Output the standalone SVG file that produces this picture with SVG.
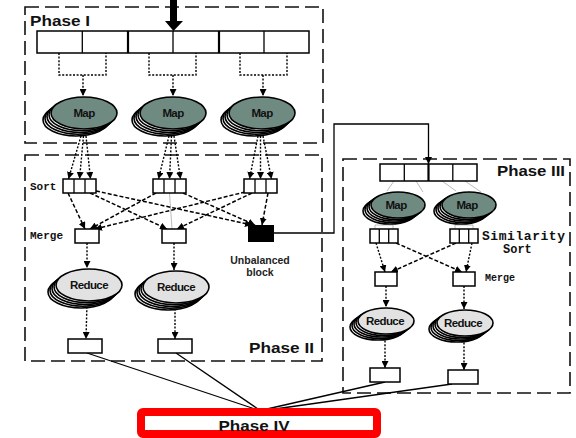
<svg xmlns="http://www.w3.org/2000/svg" xmlns:xlink="http://www.w3.org/1999/xlink" width="576" height="438" viewBox="0 0 576 438">
  <style>
    .phase { fill: none; stroke: #111; stroke-width: 1.6; stroke-dasharray: 14 6; }
    .box { fill: #fff; stroke: #000; stroke-width: 1.5; }
    .solid { fill: none; stroke: #000; stroke-width: 1.3; }
    .dot { fill: none; stroke: #000; stroke-width: 1.4; stroke-dasharray: 2 1.6; }
    .dash { fill: none; stroke: #000; stroke-width: 1.5; stroke-dasharray: 4 2; }
    .faint { fill: none; stroke: #aaa; stroke-width: 0.8; }
    .back { fill: #fff; stroke: #000; stroke-width: 1.6; }
    .map { fill: #6f8a81; stroke: #000; stroke-width: 1.6; }
    .red { fill: #e2e2e2; stroke: #000; stroke-width: 1.6; }
    .title { font-family: "Liberation Sans", Arial, sans-serif; font-weight: bold; font-size: 15px; fill: #111; }
    .mono { font-family: "Liberation Mono", "Courier New", monospace; font-weight: bold; fill: #111; }
    .in { font-family: "Liberation Sans", Arial, sans-serif; font-weight: 900; font-size: 11.5px; fill: #111; text-anchor: middle; letter-spacing: -0.6px; }
    .note { font-family: "Liberation Sans", Arial, sans-serif; font-weight: bold; font-size: 10.5px; fill: #222; text-anchor: middle; }
  </style>
  <defs>
    <marker id="ah" viewBox="0 0 10 10" refX="10" refY="5" markerWidth="7" markerHeight="7" markerUnits="userSpaceOnUse" orient="auto">
      <path d="M0,0 L10,5 L0,10 z" fill="#000"/>
    </marker>
    <!-- stacked ellipses: several copies behind the front one -->
    <g id="mapL">
      <ellipse class="back" cx="-8" cy="7" rx="33" ry="16"/>
      <ellipse class="back" cx="-6" cy="5.2" rx="33" ry="16"/>
      <ellipse class="back" cx="-4" cy="3.5" rx="33" ry="16"/>
      <ellipse class="back" cx="-2" cy="1.7" rx="33" ry="16"/>
      <ellipse class="map" cx="0" cy="0" rx="33" ry="16"/>
    </g>
    <g id="redL">
      <ellipse class="back" cx="-8" cy="7" rx="33" ry="16"/>
      <ellipse class="back" cx="-6" cy="5.2" rx="33" ry="16"/>
      <ellipse class="back" cx="-4" cy="3.5" rx="33" ry="16"/>
      <ellipse class="back" cx="-2" cy="1.7" rx="33" ry="16"/>
      <ellipse class="red" cx="0" cy="0" rx="33" ry="16"/>
    </g>
    <g id="mapS">
      <ellipse class="back" cx="-8" cy="6" rx="27" ry="13"/>
      <ellipse class="back" cx="-6" cy="4.5" rx="27" ry="13"/>
      <ellipse class="back" cx="-4" cy="3" rx="27" ry="13"/>
      <ellipse class="back" cx="-2" cy="1.5" rx="27" ry="13"/>
      <ellipse class="map" cx="0" cy="0" rx="27" ry="13"/>
    </g>
    <g id="redS">
      <ellipse class="back" cx="-8" cy="6" rx="28" ry="13"/>
      <ellipse class="back" cx="-6" cy="4.5" rx="28" ry="13"/>
      <ellipse class="back" cx="-4" cy="3" rx="28" ry="13"/>
      <ellipse class="back" cx="-2" cy="1.5" rx="28" ry="13"/>
      <ellipse class="red" cx="0" cy="0" rx="28" ry="13"/>
    </g>
  </defs>

  <rect width="576" height="438" fill="#fff"/>

  <!-- phase frames -->
  <g id="frames">
    <rect class="phase" x="25" y="7" width="298" height="136"/>
    <rect class="phase" x="25" y="155" width="297" height="206"/>
    <rect class="phase" x="343" y="159" width="227" height="234"/>
  </g>

  <!-- phase titles and side labels -->
  <g id="labels">
    <text class="title" x="30" y="26" textLength="60" lengthAdjust="spacingAndGlyphs">Phase I</text>
    <text class="title" x="249" y="353" textLength="65" lengthAdjust="spacingAndGlyphs">Phase II</text>
    <text class="title" x="497" y="176" textLength="68" lengthAdjust="spacingAndGlyphs">Phase III</text>
    <text class="mono" x="30" y="190" font-size="11">Sort</text>
    <text class="mono" x="30" y="239" font-size="11">Merge</text>
    <text class="mono" x="482" y="240" font-size="13" textLength="83">Similarity</text>
    <text class="mono" x="503" y="253" font-size="12">Sort</text>
    <text class="mono" x="485" y="281" font-size="10">Merge</text>
  </g>

  <!-- connectors -->
  <g id="connectors">
    <!-- input arrow -->
    <polygon points="170,0 177,0 177,21 183,21 173.5,31 165,21 170,21" fill="#000"/>

    <!-- Phase I: split brackets to maps -->
    <path class="dot" d="M59,53 V75 H106 V53"/>
    <path class="dot" d="M149,53 V75 H196 V53"/>
    <path class="dot" d="M240,53 V75 H287 V53"/>
    <line class="dot" x1="83" y1="75" x2="83" y2="96" marker-end="url(#ah)"/>
    <line class="dot" x1="173" y1="75" x2="173" y2="96" marker-end="url(#ah)"/>
    <line class="dot" x1="263" y1="75" x2="263" y2="96" marker-end="url(#ah)"/>

    <!-- maps to sort buffers -->
    <line class="dot" x1="81" y1="136" x2="68.5" y2="179" marker-end="url(#ah)"/>
    <line class="dot" x1="83.5" y1="136" x2="79.5" y2="179" marker-end="url(#ah)"/>
    <line class="dot" x1="86" y1="136" x2="90.5" y2="179" marker-end="url(#ah)"/>
    <line class="dot" x1="169" y1="136" x2="158.5" y2="179" marker-end="url(#ah)"/>
    <line class="dot" x1="171.5" y1="136" x2="169.5" y2="179" marker-end="url(#ah)"/>
    <line class="dot" x1="174" y1="136" x2="180.5" y2="179" marker-end="url(#ah)"/>
    <line class="dot" x1="258" y1="136" x2="249.5" y2="179" marker-end="url(#ah)"/>
    <line class="dot" x1="260.5" y1="136" x2="260.5" y2="179" marker-end="url(#ah)"/>
    <line class="dot" x1="263" y1="136" x2="271.5" y2="179" marker-end="url(#ah)"/>

    <!-- shuffle: sort buffers to merge / unbalanced block -->
    <line class="faint" x1="169.5" y1="193" x2="172" y2="229"/>
    <line class="dash" x1="68" y1="193" x2="85" y2="229" marker-end="url(#ah)"/>
    <line class="dash" x1="90" y1="193" x2="167" y2="229" marker-end="url(#ah)"/>
    <line class="dash" x1="96" y1="191" x2="252" y2="225" marker-end="url(#ah)"/>
    <line class="dash" x1="156" y1="193" x2="90" y2="229" marker-end="url(#ah)"/>
    <line class="dash" x1="183" y1="193" x2="255" y2="225" marker-end="url(#ah)"/>
    <line class="dash" x1="245" y1="192" x2="95" y2="229" marker-end="url(#ah)"/>
    <line class="dash" x1="252" y1="193" x2="177" y2="229" marker-end="url(#ah)"/>
    <line class="dash" x1="268" y1="193" x2="262" y2="225" marker-end="url(#ah)"/>

    <!-- Phase II: merge to reduce to output -->
    <line class="dot" x1="87" y1="243" x2="87" y2="268" marker-end="url(#ah)"/>
    <line class="dot" x1="174" y1="243" x2="174" y2="270" marker-end="url(#ah)"/>
    <line class="dot" x1="87" y1="303" x2="86" y2="339" marker-end="url(#ah)"/>
    <line class="dot" x1="175" y1="305" x2="175" y2="339" marker-end="url(#ah)"/>

    <!-- unbalanced block rerouted to Phase III -->
    <polyline class="solid" points="274,233 334,233 334,124 428.5,124 428.5,164" marker-end="url(#ah)"/>

    <!-- Phase III: split to maps -->
    <line class="faint" x1="394" y1="181" x2="387" y2="191"/>
    <line class="faint" x1="416" y1="181" x2="423" y2="192"/>
    <line class="faint" x1="442" y1="181" x2="456" y2="191"/>
    <line class="faint" x1="465" y1="181" x2="481" y2="192"/>
    <path class="faint" d="M375,229 V225 H393 V229 M384,225 V221"/>
    <path class="faint" d="M455,229 V225 H473 V229 M464,225 V221"/>

    <!-- similarity sort to merge -->
    <line class="dot" x1="376" y1="243" x2="385" y2="272" marker-end="url(#ah)"/>
    <line class="dash" x1="396" y1="243" x2="462" y2="272" marker-end="url(#ah)"/>
    <line class="dash" x1="456" y1="243" x2="391" y2="272" marker-end="url(#ah)"/>
    <line class="dot" x1="472" y1="243" x2="466" y2="272" marker-end="url(#ah)"/>

    <!-- Phase III: merge to reduce to output -->
    <line class="dot" x1="386" y1="286" x2="386" y2="307" marker-end="url(#ah)"/>
    <line class="dot" x1="464" y1="286" x2="464" y2="309" marker-end="url(#ah)"/>
    <line class="dot" x1="385" y1="337" x2="385" y2="368" marker-end="url(#ah)"/>
    <line class="dot" x1="464" y1="339" x2="464" y2="370" marker-end="url(#ah)"/>

    <!-- outputs into Phase IV -->
    <line class="solid" x1="87" y1="353" x2="255" y2="409"/>
    <line class="solid" x1="176" y1="353" x2="258" y2="409"/>
    <line class="solid" x1="385" y1="382" x2="267" y2="409"/>
    <line class="solid" x1="452" y1="384" x2="275" y2="409"/>
  </g>

  <!-- Phase I input splits -->
  <g id="input-splits">
    <rect class="box" x="37" y="31" width="272" height="22"/>
    <line class="solid" x1="82.3" y1="31" x2="82.3" y2="53"/>
    <line class="solid" x1="173" y1="31" x2="173" y2="53"/>
    <line class="solid" x1="264" y1="31" x2="264" y2="53"/>
    <line x1="128" y1="31" x2="128" y2="53" stroke="#000" stroke-width="2.2"/>
    <line x1="219" y1="31" x2="219" y2="53" stroke="#000" stroke-width="2.2"/>
  </g>

  <!-- Phase I maps -->
  <g id="map-1"><use href="#mapL" x="84" y="113"/><text class="in" x="84" y="117">Map</text></g>
  <g id="map-2"><use href="#mapL" x="173" y="113"/><text class="in" x="173" y="117">Map</text></g>
  <g id="map-3"><use href="#mapL" x="262" y="113"/><text class="in" x="262" y="117">Map</text></g>

  <!-- Phase II sort buffers -->
  <g id="sort-1">
    <rect class="box" x="63" y="179" width="33" height="14"/>
    <line class="solid" x1="74" y1="179" x2="74" y2="193"/><line class="solid" x1="85" y1="179" x2="85" y2="193"/>
  </g>
  <g id="sort-2">
    <rect class="box" x="153" y="179" width="33" height="14"/>
    <line class="solid" x1="164" y1="179" x2="164" y2="193"/><line class="solid" x1="175" y1="179" x2="175" y2="193"/>
  </g>
  <g id="sort-3">
    <rect class="box" x="244" y="179" width="33" height="14"/>
    <line class="solid" x1="255" y1="179" x2="255" y2="193"/><line class="solid" x1="266" y1="179" x2="266" y2="193"/>
  </g>

  <!-- Phase II merge, unbalanced block -->
  <g id="merge-1"><rect class="box" x="75" y="229" width="24" height="14"/></g>
  <g id="merge-2"><rect class="box" x="162" y="229" width="24" height="14"/></g>
  <g id="unbalanced">
    <rect x="248" y="225" width="26" height="17" fill="#000"/>
    <text class="note" x="260" y="264">Unbalanced</text>
    <text class="note" x="260" y="276">block</text>
  </g>

  <!-- Phase II reducers -->
  <g id="reduce-1"><use href="#redL" x="89" y="285"/><text class="in" x="89" y="289">Reduce</text></g>
  <g id="reduce-2"><use href="#redL" x="176" y="287"/><text class="in" x="176" y="291">Reduce</text></g>

  <!-- Phase II outputs -->
  <g id="out-1"><rect class="box" x="68" y="339" width="34" height="14"/></g>
  <g id="out-2"><rect class="box" x="158" y="339" width="34" height="14"/></g>

  <!-- Phase III input splits -->
  <g id="p3-splits">
    <rect class="box" x="380" y="164" width="97" height="17"/>
    <line class="solid" x1="404.3" y1="164" x2="404.3" y2="181"/>
    <line x1="428.5" y1="164" x2="428.5" y2="181" stroke="#000" stroke-width="2.2"/>
    <line class="solid" x1="452.8" y1="164" x2="452.8" y2="181"/>
  </g>

  <!-- Phase III maps -->
  <g id="p3-map-1"><use href="#mapS" x="398" y="205"/><text class="in" x="396" y="209" font-size="10.5">Map</text></g>
  <g id="p3-map-2"><use href="#mapS" x="469" y="205"/><text class="in" x="467" y="209" font-size="10.5">Map</text></g>

  <!-- Phase III similarity sort buffers -->
  <g id="p3-sort-1">
    <rect class="box" x="370" y="229" width="28" height="14"/>
    <line class="solid" x1="379.3" y1="229" x2="379.3" y2="243"/><line class="solid" x1="388.7" y1="229" x2="388.7" y2="243"/>
  </g>
  <g id="p3-sort-2">
    <rect class="box" x="450" y="229" width="28" height="14"/>
    <line class="solid" x1="459.3" y1="229" x2="459.3" y2="243"/><line class="solid" x1="468.7" y1="229" x2="468.7" y2="243"/>
  </g>

  <!-- Phase III merge -->
  <g id="p3-merge-1"><rect class="box" x="375" y="272" width="22" height="14"/></g>
  <g id="p3-merge-2"><rect class="box" x="453" y="272" width="22" height="14"/></g>

  <!-- Phase III reducers -->
  <g id="p3-reduce-1"><use href="#redS" x="386" y="321"/><text class="in" x="385" y="325" font-size="10.5">Reduce</text></g>
  <g id="p3-reduce-2"><use href="#redS" x="465" y="323"/><text class="in" x="463" y="327" font-size="10.5">Reduce</text></g>

  <!-- Phase III outputs -->
  <g id="p3-out-1"><rect class="box" x="370" y="368" width="30" height="14"/></g>
  <g id="p3-out-2"><rect class="box" x="448" y="370" width="30" height="14"/></g>

  <!-- Phase IV -->
  <g id="phase-4">
    <rect x="141" y="412" width="236" height="22" rx="2" fill="#fff" stroke="#f00" stroke-width="8"/>
    <text class="title" x="254" y="431" text-anchor="middle" textLength="71" lengthAdjust="spacingAndGlyphs">Phase IV</text>
  </g>
</svg>
